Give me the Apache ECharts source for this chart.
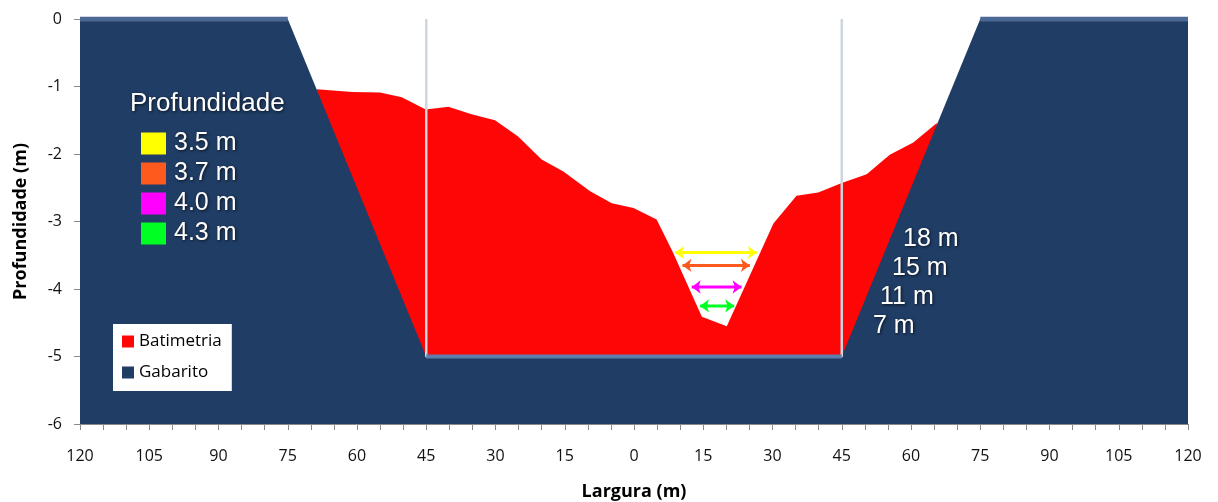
<!DOCTYPE html>
<html>
<head>
<meta charset="utf-8">
<script src="https://cdn.jsdelivr.net/npm/echarts@6/dist/echarts.min.js"></script>
<style>
html,body{margin:0;padding:0;background:#fff;}
#chart{width:1218px;height:502px;}
</style>
</head>
<body>
<div id="chart"></div>
<script>
// ---- data ----
const bathyX = [-68.7,-61,-55,-50.3,-45.1,-40.2,-35.2,-30.1,-25.1,-20.0,-15.3,-9.5,-4.8,-0.1,4.9,8.4,14.7,20.1,30.2,35.2,39.9,45.0,50.4,55.4,60.5,65.6];
const bathyY = [-1.04,-1.08,-1.09,-1.16,-1.34,-1.30,-1.41,-1.50,-1.74,-2.08,-2.26,-2.55,-2.73,-2.80,-2.97,-3.45,-4.41,-4.55,-3.03,-2.62,-2.57,-2.43,-2.30,-2.01,-1.83,-1.54];
const gabX = [-120,-75,-45,45,75,120];
const gabY = [0,0,-5,-5,0,0];
const channelX = [-45,-45,45,45];
const channelY = [0,-5,-5,0];
const depthNames = ['3.5 m','3.7 m','4.0 m','4.3 m'];
const depthY = [-3.46,-3.65,-3.97,-4.25];
const arrowStart = [8.9,10.5,12.5,14.3];
const arrowEnd = [26.6,25.1,23.3,21.7];
const depthColors = ['#ffff00','#ff5a1e','#ff00ff','#00ff22'];
const widthLabels = ['18 m','15 m','11 m','7 m'];

const pairs = (xs, ys) => xs.map((x, i) => [x, ys[i]]);

const navy = '#203d65';
const red = '#ff0606';

const series = [
  {
    name: 'Batimetria', type: 'line', data: pairs(bathyX, bathyY),
    symbol: 'none', z: 2,
    lineStyle: { width: 0, color: red },
    itemStyle: { color: red },
    areaStyle: { color: red, opacity: 1, origin: 'start' }
  },
  {
    name: 'Gabarito', type: 'line', data: pairs(gabX, gabY),
    symbol: 'none', z: 3,
    lineStyle: { width: 0, color: navy },
    itemStyle: { color: navy },
    areaStyle: { color: navy, opacity: 1, origin: 'start' }
  },
  {
    name: 'topoE', type: 'line', data: pairs(gabX.slice(0, 2), gabY.slice(0, 2)),
    symbol: 'none', z: 4, silent: true,
    lineStyle: { width: 5, color: '#4b6994' }
  },
  {
    name: 'topoD', type: 'line', data: pairs(gabX.slice(4, 6), gabY.slice(4, 6)),
    symbol: 'none', z: 4, silent: true,
    lineStyle: { width: 5, color: '#4b6994' }
  },
  {
    name: 'canal', type: 'line', data: pairs(channelX, channelY),
    symbol: 'none', z: 4, silent: true,
    lineStyle: { width: 2.5, color: '#cdd6de' }
  },
  {
    name: 'fundo', type: 'line', data: pairs([channelX[1], channelX[2]], [channelY[1], channelY[2]]),
    symbol: 'none', z: 5, silent: true,
    lineStyle: { width: 4, color: '#5d7dab' }
  }
];
depthNames.forEach((n, i) => {
  series.push({
    name: n, type: 'line', z: 6,
    data: [[arrowStart[i], depthY[i]], [arrowEnd[i], depthY[i]]],
    symbol: 'arrow', symbolSize: [10, 9],
    symbolRotate: (v, p) => p.dataIndex === 0 ? 90 : -90,
    symbolKeepAspect: true,
    itemStyle: { color: depthColors[i] },
    lineStyle: { width: 3, color: depthColors[i] }
  });
});

const shadow = { textShadowColor: 'rgba(0,0,0,0.7)', textShadowBlur: 3, textShadowOffsetX: 1, textShadowOffsetY: 1 };
const whiteText = Object.assign({ fill: '#ffffff', fontFamily: 'Liberation Sans', fontSize: 25 }, shadow);
const graphic = [
  { type: 'text', left: 130, top: 91, z: 100, style: Object.assign({}, whiteText, { text: 'Profundidade', fontSize: 26 }) }
];
const labelPos = [[903, 227], [892, 256], [880, 285], [873, 314]];
widthLabels.forEach((t, i) => {
  graphic.push({ type: 'text', left: labelPos[i][0], top: labelPos[i][1], z: 100, style: Object.assign({}, whiteText, { text: t }) });
});

const chart = echarts.init(document.getElementById('chart'));
chart.setOption({
  animation: false,
  backgroundColor: '#ffffff',
  grid: { left: 80, right: 30, top: 19, bottom: 78, containLabel: false, outerBoundsMode: 'none' },
  xAxis: {
    type: 'value', min: -120, max: 120, interval: 5,
    name: 'Largura (m)', nameLocation: 'middle', nameGap: 59,
    nameTextStyle: { fontFamily: 'Open Sans', fontWeight: 'bold', fontSize: 18, color: '#000' },
    axisLine: { onZero: false, lineStyle: { color: '#8a8a8a', width: 1 } },
    axisTick: { show: true, length: 6, lineStyle: { color: '#8a8a8a' } },
    axisLabel: {
      fontFamily: 'Open Sans', fontSize: 16, color: '#111', margin: 24,
      formatter: v => (v % 15 === 0 ? String(Math.abs(v)) : '')
    },
    splitLine: { show: false }
  },
  yAxis: {
    type: 'value', min: -6, max: 0, interval: 1,
    name: 'Profundidade (m)', nameLocation: 'middle', nameGap: 50,
    nameTextStyle: { fontFamily: 'Open Sans', fontWeight: 'bold', fontSize: 18, color: '#000' },
    axisLine: { show: true, onZero: false, lineStyle: { color: '#8a8a8a', width: 1 } },
    axisTick: { show: true, length: 6, lineStyle: { color: '#8a8a8a' } },
    axisLabel: { fontFamily: 'Open Sans', fontSize: 16, color: '#111', margin: 18 },
    splitLine: { show: false }
  },
  legend: [
    {
      data: ['Batimetria', 'Gabarito'], orient: 'vertical',
      left: 113, top: 324, backgroundColor: '#ffffff',
      padding: [9, 10, 10, 9], itemGap: 14, itemWidth: 12, itemHeight: 12, icon: 'rect',
      textStyle: { fontFamily: 'Open Sans', fontSize: 17, color: '#000' }
    },
    {
      data: depthNames, orient: 'vertical',
      left: 141, top: 131, padding: 0, itemGap: 5, itemWidth: 25, itemHeight: 22, icon: 'rect',
      textStyle: Object.assign({ color: '#fff', fontFamily: 'Liberation Sans', fontSize: 25, padding: [0, 0, 0, 3] }, shadow)
    }
  ],
  graphic: graphic,
  series: series
});
</script>
</body>
</html>
